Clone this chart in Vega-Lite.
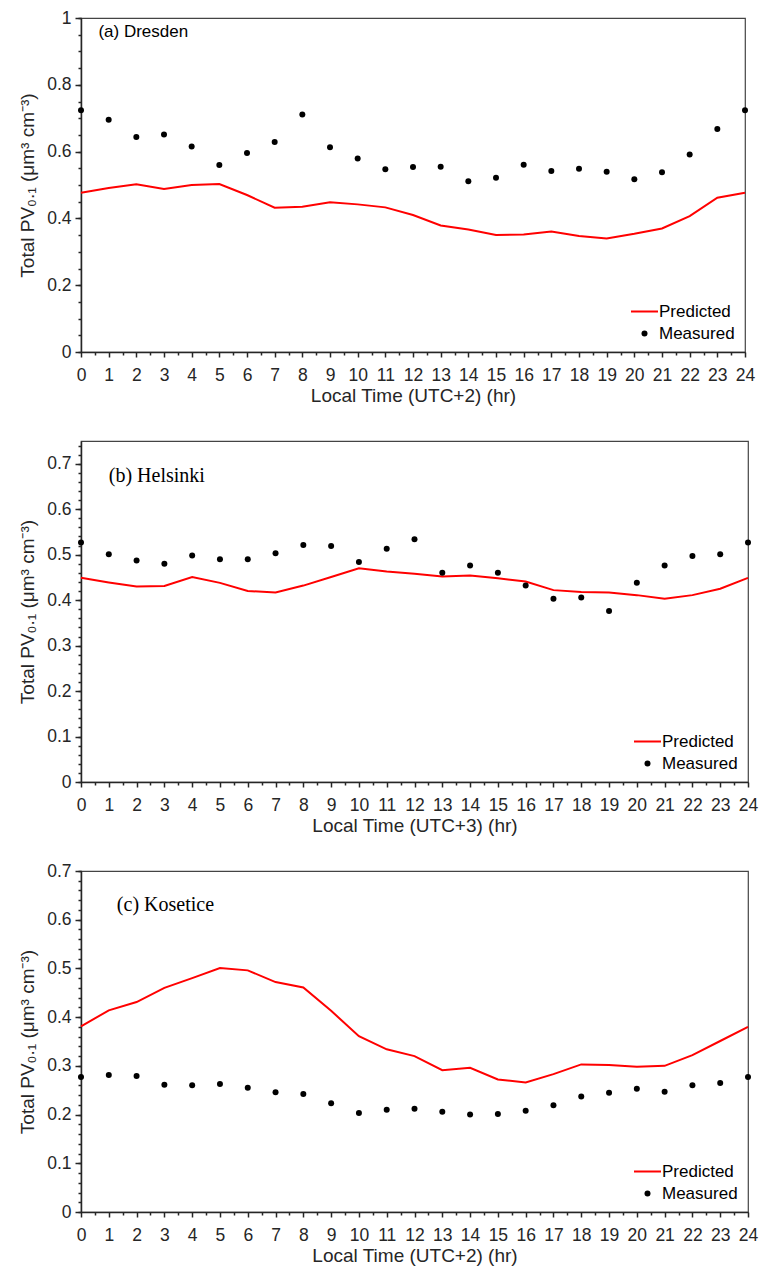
{
 "$schema": "https://vega.github.io/schema/vega-lite/v6.json",
 "background": "white",
 "padding": {"left": 18, "top": 8, "right": 5, "bottom": 5},
 "bounds": "flush",
 "spacing": 89,
 "data": {"values": [
  {"site":"Dresden","hour":0,"Predicted":0.477,"Measured":0.724},
  {"site":"Dresden","hour":1,"Predicted":0.491,"Measured":0.695},
  {"site":"Dresden","hour":2,"Predicted":0.502,"Measured":0.644},
  {"site":"Dresden","hour":3,"Predicted":0.488,"Measured":0.651},
  {"site":"Dresden","hour":4,"Predicted":0.500,"Measured":0.615},
  {"site":"Dresden","hour":5,"Predicted":0.503,"Measured":0.560},
  {"site":"Dresden","hour":6,"Predicted":0.470,"Measured":0.596},
  {"site":"Dresden","hour":7,"Predicted":0.432,"Measured":0.629},
  {"site":"Dresden","hour":8,"Predicted":0.435,"Measured":0.711},
  {"site":"Dresden","hour":9,"Predicted":0.448,"Measured":0.613},
  {"site":"Dresden","hour":10,"Predicted":0.442,"Measured":0.579},
  {"site":"Dresden","hour":11,"Predicted":0.433,"Measured":0.547},
  {"site":"Dresden","hour":12,"Predicted":0.410,"Measured":0.554},
  {"site":"Dresden","hour":13,"Predicted":0.379,"Measured":0.555},
  {"site":"Dresden","hour":14,"Predicted":0.367,"Measured":0.511},
  {"site":"Dresden","hour":15,"Predicted":0.350,"Measured":0.522},
  {"site":"Dresden","hour":16,"Predicted":0.352,"Measured":0.561},
  {"site":"Dresden","hour":17,"Predicted":0.361,"Measured":0.542},
  {"site":"Dresden","hour":18,"Predicted":0.347,"Measured":0.549},
  {"site":"Dresden","hour":19,"Predicted":0.340,"Measured":0.540},
  {"site":"Dresden","hour":20,"Predicted":0.354,"Measured":0.517},
  {"site":"Dresden","hour":21,"Predicted":0.370,"Measured":0.538},
  {"site":"Dresden","hour":22,"Predicted":0.407,"Measured":0.591},
  {"site":"Dresden","hour":23,"Predicted":0.462,"Measured":0.668},
  {"site":"Dresden","hour":24,"Predicted":0.477,"Measured":0.724},
  {"site":"Helsinki","hour":0,"Predicted":0.449,"Measured":0.527},
  {"site":"Helsinki","hour":1,"Predicted":0.439,"Measured":0.501},
  {"site":"Helsinki","hour":2,"Predicted":0.430,"Measured":0.487},
  {"site":"Helsinki","hour":3,"Predicted":0.431,"Measured":0.480},
  {"site":"Helsinki","hour":4,"Predicted":0.451,"Measured":0.498},
  {"site":"Helsinki","hour":5,"Predicted":0.438,"Measured":0.490},
  {"site":"Helsinki","hour":6,"Predicted":0.420,"Measured":0.490},
  {"site":"Helsinki","hour":7,"Predicted":0.417,"Measured":0.503},
  {"site":"Helsinki","hour":8,"Predicted":0.432,"Measured":0.521},
  {"site":"Helsinki","hour":9,"Predicted":0.451,"Measured":0.519},
  {"site":"Helsinki","hour":10,"Predicted":0.470,"Measured":0.484},
  {"site":"Helsinki","hour":11,"Predicted":0.463,"Measured":0.513},
  {"site":"Helsinki","hour":12,"Predicted":0.458,"Measured":0.534},
  {"site":"Helsinki","hour":13,"Predicted":0.452,"Measured":0.460},
  {"site":"Helsinki","hour":14,"Predicted":0.454,"Measured":0.476},
  {"site":"Helsinki","hour":15,"Predicted":0.448,"Measured":0.460},
  {"site":"Helsinki","hour":16,"Predicted":0.441,"Measured":0.432},
  {"site":"Helsinki","hour":17,"Predicted":0.422,"Measured":0.403},
  {"site":"Helsinki","hour":18,"Predicted":0.418,"Measured":0.406},
  {"site":"Helsinki","hour":19,"Predicted":0.417,"Measured":0.376},
  {"site":"Helsinki","hour":20,"Predicted":0.411,"Measured":0.438},
  {"site":"Helsinki","hour":21,"Predicted":0.403,"Measured":0.476},
  {"site":"Helsinki","hour":22,"Predicted":0.411,"Measured":0.497},
  {"site":"Helsinki","hour":23,"Predicted":0.425,"Measured":0.501},
  {"site":"Helsinki","hour":24,"Predicted":0.449,"Measured":0.527},
  {"site":"Kosetice","hour":0,"Predicted":0.381,"Measured":0.277},
  {"site":"Kosetice","hour":1,"Predicted":0.414,"Measured":0.281},
  {"site":"Kosetice","hour":2,"Predicted":0.431,"Measured":0.279},
  {"site":"Kosetice","hour":3,"Predicted":0.460,"Measured":0.261},
  {"site":"Kosetice","hour":4,"Predicted":0.480,"Measured":0.260},
  {"site":"Kosetice","hour":5,"Predicted":0.501,"Measured":0.263},
  {"site":"Kosetice","hour":6,"Predicted":0.496,"Measured":0.255},
  {"site":"Kosetice","hour":7,"Predicted":0.472,"Measured":0.246},
  {"site":"Kosetice","hour":8,"Predicted":0.461,"Measured":0.242},
  {"site":"Kosetice","hour":9,"Predicted":0.413,"Measured":0.223},
  {"site":"Kosetice","hour":10,"Predicted":0.361,"Measured":0.203},
  {"site":"Kosetice","hour":11,"Predicted":0.334,"Measured":0.210},
  {"site":"Kosetice","hour":12,"Predicted":0.320,"Measured":0.212},
  {"site":"Kosetice","hour":13,"Predicted":0.291,"Measured":0.206},
  {"site":"Kosetice","hour":14,"Predicted":0.296,"Measured":0.200},
  {"site":"Kosetice","hour":15,"Predicted":0.272,"Measured":0.201},
  {"site":"Kosetice","hour":16,"Predicted":0.266,"Measured":0.208},
  {"site":"Kosetice","hour":17,"Predicted":0.283,"Measured":0.219},
  {"site":"Kosetice","hour":18,"Predicted":0.303,"Measured":0.237},
  {"site":"Kosetice","hour":19,"Predicted":0.302,"Measured":0.245},
  {"site":"Kosetice","hour":20,"Predicted":0.298,"Measured":0.253},
  {"site":"Kosetice","hour":21,"Predicted":0.300,"Measured":0.247},
  {"site":"Kosetice","hour":22,"Predicted":0.322,"Measured":0.260},
  {"site":"Kosetice","hour":23,"Predicted":0.351,"Measured":0.265},
  {"site":"Kosetice","hour":24,"Predicted":0.380,"Measured":0.277}
 ]},
 "vconcat": [
  {
   "width": 664, "height": 334,
   "transform": [{"filter": "datum.site === 'Dresden'"}, {"fold": ["Predicted", "Measured"], "as": ["series", "pv"]}],
   "layer": [
    {
     "transform": [{"filter": "datum.series === 'Predicted'"}],
     "mark": {"type": "line", "strokeWidth": 2},
     "encoding": {
      "x": {"field": "hour", "type": "quantitative", "scale": {"domain": [0, 24], "nice": false, "zero": false},
            "axis": {"values": [0,1,2,3,4,5,6,7,8,9,10,11,12,13,14,15,16,17,18,19,20,21,22,23,24], "title": "Local Time (UTC+2) (hr)", "orient": "bottom", "tickSize": 5, "labelPadding": 9, "titlePadding": 3}},
      "y": {"field": "pv", "type": "quantitative", "scale": {"domain": [0, 1], "nice": false},
            "axis": {"values": [0,0.2,0.4,0.6,0.8,1], "format": "~g", "title": "Total PV₀.₁ (μm³ cm⁻³)", "orient": "left", "tickSize": 6, "labelPadding": 4, "titlePadding": 9}},
      "color": {"field": "series", "type": "nominal", "scale": {"domain": ["Predicted", "Measured"], "range": ["#ff0000", "#000000"]},
                "legend": {"orient": "bottom-right", "title": null, "offset": 10, "padding": 0, "labelFontSize": 17, "labelFont": "Liberation Sans", "labelColor": "#000000", "symbolSize": 484, "rowPadding": 4, "labelOffset": 6,
                  "encode": {"symbols": {"update": {
                    "shape": {"signal": "datum.value === 'Predicted' ? 'stroke' : 'circle'"},
                    "size": {"signal": "datum.value === 'Predicted' ? 729 : 36"},
                    "stroke": {"signal": "datum.value === 'Predicted' ? '#ff0000' : '#000000'"},
                    "strokeWidth": {"signal": "datum.value === 'Predicted' ? 2 : 0"},
                    "fill": {"signal": "datum.value === 'Predicted' ? 'transparent' : '#000000'"},
                    "opacity": {"value": 1}}}}}}
     }
    },
    {
     "transform": [{"filter": "datum.series === 'Measured'"}],
     "mark": {"type": "point", "filled": true, "size": 36, "opacity": 1},
     "encoding": {
      "x": {"field": "hour", "type": "quantitative",
            "axis": {"values": [0.5,1.5,2.5,3.5,4.5,5.5,6.5,7.5,8.5,9.5,10.5,11.5,12.5,13.5,14.5,15.5,16.5,17.5,18.5,19.5,20.5,21.5,22.5,23.5], "labels": false, "domain": false, "title": null, "orient": "bottom", "tickSize": 3}},
      "y": {"field": "pv", "type": "quantitative",
            "axis": {"values": [0,0.05,0.1,0.15,0.2,0.25,0.3,0.35,0.4,0.45,0.5,0.55,0.6,0.65,0.7,0.75,0.8,0.85,0.9,0.95,1], "labels": false, "domain": false, "title": null, "orient": "left", "tickSize": 3}},
      "color": {"field": "series", "type": "nominal", "scale": {"domain": ["Predicted", "Measured"], "range": ["#ff0000", "#000000"]},
                "legend": {"orient": "bottom-right", "title": null, "offset": 10, "padding": 0, "labelFontSize": 17, "labelFont": "Liberation Sans", "labelColor": "#000000", "symbolSize": 484, "rowPadding": 4, "labelOffset": 6,
                  "encode": {"symbols": {"update": {
                    "shape": {"signal": "datum.value === 'Predicted' ? 'stroke' : 'circle'"},
                    "size": {"signal": "datum.value === 'Predicted' ? 729 : 36"},
                    "stroke": {"signal": "datum.value === 'Predicted' ? '#ff0000' : '#000000'"},
                    "strokeWidth": {"signal": "datum.value === 'Predicted' ? 2 : 0"},
                    "fill": {"signal": "datum.value === 'Predicted' ? 'transparent' : '#000000'"},
                    "opacity": {"value": 1}}}}}}
     }
    },
    {
     "data": {"values": [{"caption": "(a) Dresden"}]},
     "mark": {"type": "text", "align": "left", "baseline": "middle", "font": "Liberation Sans", "fontSize": 17, "color": "#000000"},
     "encoding": {
      "x": {"datum": 0.63, "type": "quantitative", "axis": null},
      "y": {"datum": 0.959, "type": "quantitative", "axis": null},
      "text": {"field": "caption"}
     }
    }
   ],
   "resolve": {"axis": {"x": "independent", "y": "independent"}}
  },
  {
   "width": 667, "height": 341,
   "transform": [{"filter": "datum.site === 'Helsinki'"}, {"fold": ["Predicted", "Measured"], "as": ["series", "pv"]}],
   "layer": [
    {
     "transform": [{"filter": "datum.series === 'Predicted'"}],
     "mark": {"type": "line", "strokeWidth": 2},
     "encoding": {
      "x": {"field": "hour", "type": "quantitative", "scale": {"domain": [0, 24], "nice": false, "zero": false},
            "axis": {"values": [0,1,2,3,4,5,6,7,8,9,10,11,12,13,14,15,16,17,18,19,20,21,22,23,24], "title": "Local Time (UTC+3) (hr)", "orient": "bottom", "tickSize": 5, "labelPadding": 9, "titlePadding": 3}},
      "y": {"field": "pv", "type": "quantitative", "scale": {"domain": [0, 0.75], "nice": false},
            "axis": {"values": [0,0.1,0.2,0.3,0.4,0.5,0.6,0.7], "format": "~g", "title": "Total PV₀.₁ (μm³ cm⁻³)", "orient": "left", "tickSize": 6, "labelPadding": 4, "titlePadding": 9}},
      "color": {"field": "series", "type": "nominal", "scale": {"domain": ["Predicted", "Measured"], "range": ["#ff0000", "#000000"]},
                "legend": {"orient": "bottom-right", "title": null, "offset": 10, "padding": 0, "labelFontSize": 17, "labelFont": "Liberation Sans", "labelColor": "#000000", "symbolSize": 484, "rowPadding": 4, "labelOffset": 6,
                  "encode": {"symbols": {"update": {
                    "shape": {"signal": "datum.value === 'Predicted' ? 'stroke' : 'circle'"},
                    "size": {"signal": "datum.value === 'Predicted' ? 729 : 36"},
                    "stroke": {"signal": "datum.value === 'Predicted' ? '#ff0000' : '#000000'"},
                    "strokeWidth": {"signal": "datum.value === 'Predicted' ? 2 : 0"},
                    "fill": {"signal": "datum.value === 'Predicted' ? 'transparent' : '#000000'"},
                    "opacity": {"value": 1}}}}}}
     }
    },
    {
     "transform": [{"filter": "datum.series === 'Measured'"}],
     "mark": {"type": "point", "filled": true, "size": 36, "opacity": 1},
     "encoding": {
      "x": {"field": "hour", "type": "quantitative",
            "axis": {"values": [0.5,1.5,2.5,3.5,4.5,5.5,6.5,7.5,8.5,9.5,10.5,11.5,12.5,13.5,14.5,15.5,16.5,17.5,18.5,19.5,20.5,21.5,22.5,23.5], "labels": false, "domain": false, "title": null, "orient": "bottom", "tickSize": 3}},
      "y": {"field": "pv", "type": "quantitative",
            "axis": {"values": [0,0.02,0.04,0.06,0.08,0.1,0.12,0.14,0.16,0.18,0.2,0.22,0.24,0.26,0.28,0.3,0.32,0.34,0.36,0.38,0.4,0.42,0.44,0.46,0.48,0.5,0.52,0.54,0.56,0.58,0.6,0.62,0.64,0.66,0.68,0.7,0.72,0.74], "labels": false, "domain": false, "title": null, "orient": "left", "tickSize": 3}},
      "color": {"field": "series", "type": "nominal", "scale": {"domain": ["Predicted", "Measured"], "range": ["#ff0000", "#000000"]},
                "legend": {"orient": "bottom-right", "title": null, "offset": 10, "padding": 0, "labelFontSize": 17, "labelFont": "Liberation Sans", "labelColor": "#000000", "symbolSize": 484, "rowPadding": 4, "labelOffset": 6,
                  "encode": {"symbols": {"update": {
                    "shape": {"signal": "datum.value === 'Predicted' ? 'stroke' : 'circle'"},
                    "size": {"signal": "datum.value === 'Predicted' ? 729 : 36"},
                    "stroke": {"signal": "datum.value === 'Predicted' ? '#ff0000' : '#000000'"},
                    "strokeWidth": {"signal": "datum.value === 'Predicted' ? 2 : 0"},
                    "fill": {"signal": "datum.value === 'Predicted' ? 'transparent' : '#000000'"},
                    "opacity": {"value": 1}}}}}}
     }
    },
    {
     "data": {"values": [{"caption": "(b) Helsinki"}]},
     "mark": {"type": "text", "align": "left", "baseline": "middle", "font": "Liberation Serif", "fontSize": 20, "color": "#000000"},
     "encoding": {
      "x": {"datum": 1.0, "type": "quantitative", "axis": null},
      "y": {"datum": 0.673, "type": "quantitative", "axis": null},
      "text": {"field": "caption"}
     }
    }
   ],
   "resolve": {"axis": {"x": "independent", "y": "independent"}}
  },
  {
   "width": 667, "height": 341,
   "transform": [{"filter": "datum.site === 'Kosetice'"}, {"fold": ["Predicted", "Measured"], "as": ["series", "pv"]}],
   "layer": [
    {
     "transform": [{"filter": "datum.series === 'Predicted'"}],
     "mark": {"type": "line", "strokeWidth": 2},
     "encoding": {
      "x": {"field": "hour", "type": "quantitative", "scale": {"domain": [0, 24], "nice": false, "zero": false},
            "axis": {"values": [0,1,2,3,4,5,6,7,8,9,10,11,12,13,14,15,16,17,18,19,20,21,22,23,24], "title": "Local Time (UTC+2) (hr)", "orient": "bottom", "tickSize": 5, "labelPadding": 9, "titlePadding": 3}},
      "y": {"field": "pv", "type": "quantitative", "scale": {"domain": [0, 0.7], "nice": false},
            "axis": {"values": [0,0.1,0.2,0.3,0.4,0.5,0.6,0.7], "format": "~g", "title": "Total PV₀.₁ (μm³ cm⁻³)", "orient": "left", "tickSize": 6, "labelPadding": 4, "titlePadding": 9}},
      "color": {"field": "series", "type": "nominal", "scale": {"domain": ["Predicted", "Measured"], "range": ["#ff0000", "#000000"]},
                "legend": {"orient": "bottom-right", "title": null, "offset": 10, "padding": 0, "labelFontSize": 17, "labelFont": "Liberation Sans", "labelColor": "#000000", "symbolSize": 484, "rowPadding": 4, "labelOffset": 6,
                  "encode": {"symbols": {"update": {
                    "shape": {"signal": "datum.value === 'Predicted' ? 'stroke' : 'circle'"},
                    "size": {"signal": "datum.value === 'Predicted' ? 729 : 36"},
                    "stroke": {"signal": "datum.value === 'Predicted' ? '#ff0000' : '#000000'"},
                    "strokeWidth": {"signal": "datum.value === 'Predicted' ? 2 : 0"},
                    "fill": {"signal": "datum.value === 'Predicted' ? 'transparent' : '#000000'"},
                    "opacity": {"value": 1}}}}}}
     }
    },
    {
     "transform": [{"filter": "datum.series === 'Measured'"}],
     "mark": {"type": "point", "filled": true, "size": 36, "opacity": 1},
     "encoding": {
      "x": {"field": "hour", "type": "quantitative",
            "axis": {"values": [0.5,1.5,2.5,3.5,4.5,5.5,6.5,7.5,8.5,9.5,10.5,11.5,12.5,13.5,14.5,15.5,16.5,17.5,18.5,19.5,20.5,21.5,22.5,23.5], "labels": false, "domain": false, "title": null, "orient": "bottom", "tickSize": 3}},
      "y": {"field": "pv", "type": "quantitative",
            "axis": {"values": [0,0.02,0.04,0.06,0.08,0.1,0.12,0.14,0.16,0.18,0.2,0.22,0.24,0.26,0.28,0.3,0.32,0.34,0.36,0.38,0.4,0.42,0.44,0.46,0.48,0.5,0.52,0.54,0.56,0.58,0.6,0.62,0.64,0.66,0.68,0.7], "labels": false, "domain": false, "title": null, "orient": "left", "tickSize": 3}},
      "color": {"field": "series", "type": "nominal", "scale": {"domain": ["Predicted", "Measured"], "range": ["#ff0000", "#000000"]},
                "legend": {"orient": "bottom-right", "title": null, "offset": 10, "padding": 0, "labelFontSize": 17, "labelFont": "Liberation Sans", "labelColor": "#000000", "symbolSize": 484, "rowPadding": 4, "labelOffset": 6,
                  "encode": {"symbols": {"update": {
                    "shape": {"signal": "datum.value === 'Predicted' ? 'stroke' : 'circle'"},
                    "size": {"signal": "datum.value === 'Predicted' ? 729 : 36"},
                    "stroke": {"signal": "datum.value === 'Predicted' ? '#ff0000' : '#000000'"},
                    "strokeWidth": {"signal": "datum.value === 'Predicted' ? 2 : 0"},
                    "fill": {"signal": "datum.value === 'Predicted' ? 'transparent' : '#000000'"},
                    "opacity": {"value": 1}}}}}}
     }
    },
    {
     "data": {"values": [{"caption": "(c) Kosetice"}]},
     "mark": {"type": "text", "align": "left", "baseline": "middle", "font": "Liberation Serif", "fontSize": 20, "color": "#000000"},
     "encoding": {
      "x": {"datum": 1.29, "type": "quantitative", "axis": null},
      "y": {"datum": 0.631, "type": "quantitative", "axis": null},
      "text": {"field": "caption"}
     }
    }
   ],
   "resolve": {"axis": {"x": "independent", "y": "independent"}}
  }
 ],
 "resolve": {"legend": {"color": "independent"}, "scale": {"color": "independent"}},
 "config": {
  "font": "Liberation Sans",
  "view": {"stroke": "#444444", "strokeWidth": 1.2},
  "axis": {"labelFont": "Liberation Sans", "titleFont": "Liberation Sans", "labelFontSize": 17.5, "titleFontSize": 19, "labelColor": "#262626", "titleColor": "#262626", "titleFontWeight": "normal", "domainColor": "#262626", "domainWidth": 1.5, "tickColor": "#262626", "tickWidth": 1.5, "grid": false, "labelFlush": false, "labelOverlap": false}
 }
}
